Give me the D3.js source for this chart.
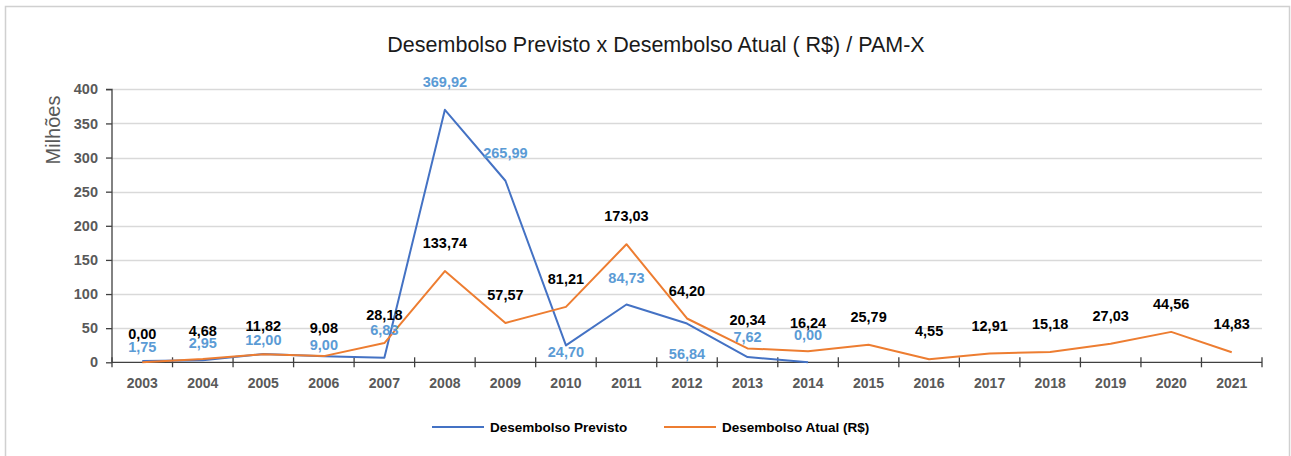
<!DOCTYPE html>
<html>
<head>
<meta charset="utf-8">
<script src="https://cdn.jsdelivr.net/npm/d3@7"></script>
<style>
  html, body { margin: 0; padding: 0; background: #fff; }
  svg { display: block; }
  text { font-family: "Liberation Sans", Arial, sans-serif; }
</style>
</head>
<body>
<svg id="chart" width="1291" height="456"></svg>
<script>
// ---- data ----
const years = ["2003","2004","2005","2006","2007","2008","2009","2010","2011","2012","2013","2014","2015","2016","2017","2018","2019","2020","2021"];
const previsto = [1.75, 2.95, 12.00, 9.00, 6.83, 369.92, 265.99, 24.70, 84.73, 56.84, 7.62, 0.00];
const atual = [0.00, 4.68, 11.82, 9.08, 28.18, 133.74, 57.57, 81.21, 173.03, 64.20, 20.34, 16.24, 25.79, 4.55, 12.91, 15.18, 27.03, 44.56, 14.83];
const yTicks = [0, 50, 100, 150, 200, 250, 300, 350, 400];
const seriesNames = ["Desembolso Previsto", "Desembolso Atual (R$)"];
const titleText = "Desembolso Previsto x Desembolso Atual ( R$) / PAM-X";
const yTitle = "Milhões";

// label placement (vertical offset of label centre from point, px) - style only
const previstoLabelDy = [-14, -17, -14, -11, -28, -28, -28, 6, -27, 30, -20, -27];
const atualLabelDy = years.map(() => -28);

// ---- layout ----
const W = 1291, H = 456;
const plot = { left: 112, right: 1262, top: 89.3, bottom: 362.3 };
const colors = { previsto: "#4472C4", atual: "#ED7D31", previstoLbl: "#5B9BD5", atualLbl: "#000000" };

const svg = d3.select("#chart");

// border
svg.append("rect").attr("x", 5.5).attr("y", 6.5).attr("width", 1284).attr("height", 460)
  .attr("fill", "#fff").attr("stroke", "#d0d0d0").attr("stroke-width", 1.5);

const x = d3.scaleBand().domain(years).range([plot.left, plot.right]).paddingInner(0).paddingOuter(0);
const y = d3.scaleLinear().domain([0, 400]).range([plot.bottom, plot.top]);
const cx = d => x(d) + x.bandwidth() / 2;
const fmt = v => d3.format(".2f")(v).replace(".", ",");

// gridlines
svg.append("g").selectAll("line").data(yTicks.filter(t => t > 0)).join("line")
  .attr("x1", plot.left).attr("x2", plot.right)
  .attr("y1", d => Math.round(y(d)) + 0.5).attr("y2", d => Math.round(y(d)) + 0.5)
  .attr("stroke", "#d9d9d9").attr("stroke-width", 1.3);

// y axis
const yAxis = svg.append("g").attr("transform", `translate(${plot.left},0)`)
  .call(d3.axisLeft(y).tickValues(yTicks).tickSize(6).tickPadding(8).tickFormat(d3.format("d")));
yAxis.selectAll("path, line").attr("stroke", "#404040").attr("stroke-width", 1.3);
yAxis.select(".domain").attr("d", `M-6,${y(400)}H0V${y(0)}`);
yAxis.selectAll("text").attr("font-size", 14.5).attr("font-weight", "bold").attr("fill", "#595959")
  .attr("font-family", "Liberation Sans, Arial, sans-serif");

// x axis
const xg = svg.append("g");
xg.append("line").attr("x1", plot.left).attr("x2", plot.right)
  .attr("y1", y(0)).attr("y2", y(0)).attr("stroke", "#404040").attr("stroke-width", 1.3);
const bounds = years.map(d => x(d)).concat([plot.right]);
xg.selectAll("line.tk").data(bounds).join("line").attr("class", "tk")
  .attr("x1", d => d).attr("x2", d => d)
  .attr("y1", y(0) - 5).attr("y2", y(0) + 5)
  .attr("stroke", "#404040").attr("stroke-width", 1.3);
xg.selectAll("text").data(years).join("text")
  .attr("x", d => cx(d)).attr("y", y(0) + 21).attr("dy", "0.35em")
  .attr("text-anchor", "middle").attr("font-size", 14).attr("font-weight", "bold")
  .attr("fill", "#595959").text(d => d);

// lines
const line = d3.line().x((d, i) => cx(years[i])).y(d => y(d));
svg.append("path").datum(previsto).attr("d", line)
  .attr("fill", "none").attr("stroke", colors.previsto).attr("stroke-width", 2).attr("stroke-linejoin", "round");
svg.append("path").datum(atual).attr("d", line)
  .attr("fill", "none").attr("stroke", colors.atual).attr("stroke-width", 2).attr("stroke-linejoin", "round");

// data labels
svg.append("g").selectAll("text").data(atual).join("text")
  .attr("x", (d, i) => cx(years[i])).attr("y", (d, i) => y(d) + atualLabelDy[i]).attr("dy", "0.35em")
  .attr("text-anchor", "middle").attr("font-size", 14.5).attr("font-weight", "bold")
  .attr("fill", colors.atualLbl).text(d => fmt(d));
svg.append("g").selectAll("text").data(previsto).join("text")
  .attr("x", (d, i) => cx(years[i])).attr("y", (d, i) => y(d) + previstoLabelDy[i]).attr("dy", "0.35em")
  .attr("text-anchor", "middle").attr("font-size", 14.5).attr("font-weight", "bold")
  .attr("fill", colors.previstoLbl).text(d => fmt(d));

// title
svg.append("text").attr("x", 656).attr("y", 44).attr("dy", "0.35em").attr("text-anchor", "middle")
  .attr("font-size", 21.5).attr("fill", "#1a1a1a").text(titleText);

// y title
svg.append("text").attr("transform", `translate(53,130) rotate(-90)`).attr("dy", "0.35em")
  .attr("text-anchor", "middle").attr("font-size", 20).attr("fill", "#595959").text(yTitle);

// legend
const legend = [
  { name: seriesNames[0], color: colors.previsto, x: 432 },
  { name: seriesNames[1], color: colors.atual, x: 664 }
];
const lg = svg.append("g").selectAll("g").data(legend).join("g")
  .attr("transform", d => `translate(${d.x},427)`);
lg.append("line").attr("x1", 0).attr("x2", 52).attr("y1", 0).attr("y2", 0)
  .attr("stroke", d => d.color).attr("stroke-width", 2);
lg.append("text").attr("x", 58).attr("dy", "0.35em").attr("font-size", 13.5).attr("font-weight", "bold")
  .attr("fill", "#000").text(d => d.name);
</script>
</body>
</html>
